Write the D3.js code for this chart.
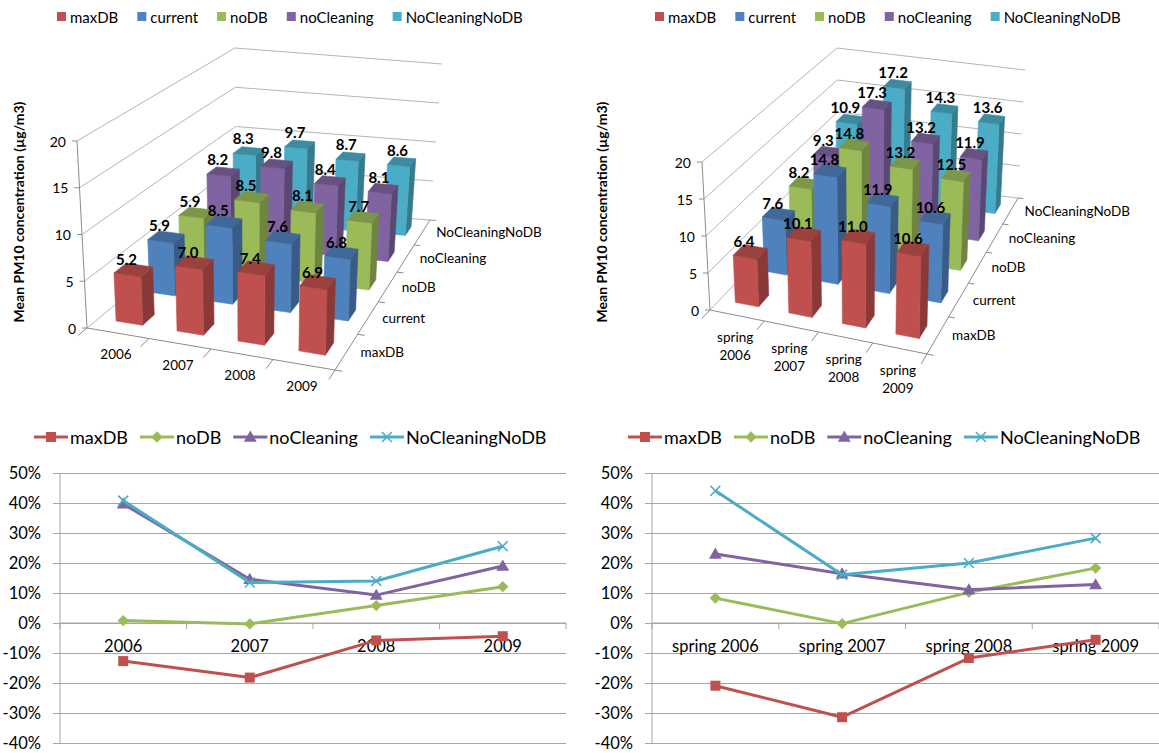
<!DOCTYPE html>
<html>
<head>
<meta charset="utf-8">
<script src="https://cdn.jsdelivr.net/npm/d3@7"></script>
<style>
  body { margin: 0; background: #fff; }
  text { font-family: Lato, "Open Sans", "DejaVu Sans", sans-serif; fill: #000; }
</style>
</head>
<body>
<svg id="chart" width="1159" height="753"></svg>
<script>
// ---- data ----
const seriesNames = ["maxDB", "current", "noDB", "noCleaning", "NoCleaningNoDB"];
const seriesColors = ["#C0504D", "#4F81BD", "#9BBB59", "#8064A2", "#4BACC6"];
const years = ["2006", "2007", "2008", "2009"];
const springs = ["spring 2006", "spring 2007", "spring 2008", "spring 2009"];
const concTicks = [0, 5, 10, 15, 20];
const pctTicks = [-0.4, -0.3, -0.2, -0.1, 0, 0.1, 0.2, 0.3, 0.4, 0.5];

const annualMaxDB = [5.2, 7.0, 7.4, 6.9];
const annualCurrent = [5.9, 8.5, 7.6, 6.8];
const annualNoDB = [5.9, 8.5, 8.1, 7.7];
const annualNoCleaning = [8.2, 9.8, 8.4, 8.1];
const annualNoCleaningNoDB = [8.3, 9.7, 8.7, 8.6];

const springMaxDB = [6.4, 10.1, 11.0, 10.6];
const springCurrent = [7.6, 14.8, 11.9, 10.6];
const springNoDB = [8.2, 14.8, 13.2, 12.5];
const springNoCleaning = [9.3, 17.3, 13.2, 11.9];
const springNoCleaningNoDB = [10.9, 17.2, 14.3, 13.6];

// relative difference to "current"
const annualDiffMaxDB = [-0.127, -0.182, -0.058, -0.044];
const annualDiffNoDB = [0.008, -0.003, 0.058, 0.121];
const annualDiffNoCleaning = [0.397, 0.146, 0.093, 0.19];
const annualDiffNoCleaningNoDB = [0.408, 0.135, 0.14, 0.256];

const springDiffMaxDB = [-0.209, -0.314, -0.117, -0.056];
const springDiffNoDB = [0.083, -0.002, 0.102, 0.183];
const springDiffNoCleaning = [0.23, 0.164, 0.111, 0.128];
const springDiffNoCleaningNoDB = [0.441, 0.161, 0.20, 0.283];

const svg = d3.select("#chart");
const gridColor = "#b4b4b4";
const axisColor = "#8c8c8c";

// ---- 3D column charts ----
// floor corners (front-left, front-right, back-right, back-left), wall heights and lean at each corner
function makeProjector(f) {
  const warp = b => (1 + f.depth) * b / (1 + f.depth * b);
  const bil = (c, u, v) => (c[0] * (1 - u) + c[1] * u) * (1 - v) + (c[3] * (1 - u) + c[2] * u) * v;
  const cx = f.corners.map(p => p[0]), cy = f.corners.map(p => p[1]);
  return (u, t, b) => {
    const v = warp(b);
    return [bil(cx, u, v) + bil(f.lean, u, v) * t, bil(cy, u, v) - bil(f.height, u, v) * t];
  };
}

function draw3D(cfg) {
  const g = svg.append("g");
  const P = makeProjector(cfg.frame);
  const xBand = d3.scaleBand().domain(d3.range(cfg.categories.length)).range([0, 1])
    .paddingInner(0.565).paddingOuter(0.2825);
  const zBand = d3.scaleBand().domain(d3.range(seriesNames.length)).range([0, 1])
    .paddingInner(0.65).paddingOuter(0.325);
  const tScale = d3.scaleLinear().domain([0, 20]).range([0, 1]);
  const line = d3.line();

  // walls gridlines
  concTicks.forEach(v => {
    const t = tScale(v);
    g.append("path").attr("d", line([P(0, t, 0), P(0, t, 1), P(1, t, 1)]))
      .attr("fill", "none").attr("stroke", gridColor).attr("stroke-width", 1);
  });
  // value axis
  g.append("path").attr("d", line([P(0, 0, 0), P(0, 1, 0)])).attr("stroke", axisColor).attr("fill", "none");
  concTicks.forEach(v => {
    const p = P(0, tScale(v), 0);
    g.append("line").attr("x1", p[0] - 5).attr("x2", p[0]).attr("y1", p[1]).attr("y2", p[1]).attr("stroke", axisColor);
    g.append("text").attr("x", p[0] - 11).attr("y", p[1]).attr("text-anchor", "end")
      .attr("dominant-baseline", "central").style("font-size", "14px").text(v);
  });
  // category axis (front floor edge) and series axis (right floor edge)
  g.append("path").attr("d", line([P(0, 0, 0), P(1, 0, 0), P(1, 0, 1)])).attr("stroke", axisColor).attr("fill", "none");
  d3.range(cfg.categories.length + 1).forEach(i => {
    const u = i / cfg.categories.length;
    g.append("path").attr("d", line([P(u, 0, 0), P(u, 0, -0.05)])).attr("stroke", axisColor);
  });
  d3.range(seriesNames.length + 1).forEach(j => {
    const b = j / seriesNames.length;
    g.append("path").attr("d", line([P(1, 0, b), P(1.03, 0, b)])).attr("stroke", axisColor);
  });
  cfg.categories.forEach((c, i) => {
    const p = P(xBand(i) + xBand.bandwidth() / 2, 0, 0);
    const tx = g.append("text").attr("text-anchor", "middle").style("font-size", "13.5px");
    c.split(" ").forEach((w, k) => {
      tx.append("tspan").attr("x", p[0] - 2).attr("y", p[1] + 21 + k * 18)
        .attr("dominant-baseline", "central").text(w);
    });
  });
  seriesNames.forEach((s, j) => {
    const p = P(1, 0, zBand(j) + zBand.bandwidth() / 2);
    g.append("text").attr("x", p[0] + 14).attr("y", p[1]).attr("dominant-baseline", "central")
      .style("font-size", "13.5px").text(s);
  });

  // bars, back rows first, left to right
  const labels = [];
  for (let j = seriesNames.length - 1; j >= 0; j--) {
    const col = d3.color(seriesColors[j]);
    cfg.values[j].forEach((v, i) => {
      const u0 = xBand(i), u1 = u0 + xBand.bandwidth();
      const b0 = zBand(j), b1 = b0 + zBand.bandwidth();
      const t = tScale(v);
      const faces = [
        { pts: [P(u1, 0, b0), P(u1, 0, b1), P(u1, t, b1), P(u1, t, b0)], fill: col.darker(0.95) },
        { pts: [P(u0, 0, b0), P(u1, 0, b0), P(u1, t, b0), P(u0, t, b0)], fill: col },
        { pts: [P(u0, t, b0), P(u1, t, b0), P(u1, t, b1), P(u0, t, b1)], fill: col.darker(0.6) }
      ];
      faces.forEach(f => {
        g.append("path").attr("d", line(f.pts) + "Z").attr("fill", f.fill)
          .attr("stroke", f.fill).attr("stroke-width", 0.6).attr("stroke-linejoin", "round");
      });
      const lp = P((u0 + u1) / 2, t, b0);
      labels.push({ x: lp[0] - 1, y: lp[1] - 10, text: v.toFixed(1) });
    });
  }
  g.selectAll("text.dl").data(labels).enter().append("text").attr("class", "dl")
    .attr("x", d => d.x).attr("y", d => d.y).attr("text-anchor", "middle")
    .style("font-size", "15px").style("font-weight", "bold").text(d => d.text);

  // axis title
  g.append("text").attr("transform", `translate(${cfg.titleX},212) rotate(-90)`)
    .attr("text-anchor", "middle").attr("dominant-baseline", "central")
    .style("font-size", "14px").style("font-weight", "bold").text("Mean PM10 concentration (µg/m3)");

  // legend
  let lx = cfg.legendX;
  seriesNames.forEach((s, j) => {
    g.append("rect").attr("x", lx).attr("y", 12).attr("width", 9).attr("height", 9).attr("fill", seriesColors[j]);
    const tx = g.append("text").attr("x", lx + 13).attr("y", 16.5).attr("dominant-baseline", "central")
      .style("font-size", "15px").text(s);
    lx += 13 + tx.node().getComputedTextLength() + 19;
  });
}

draw3D({
  categories: years,
  values: [annualMaxDB, annualCurrent, annualNoDB, annualNoCleaning, annualNoCleaningNoDB],
  frame: { corners: [[87, 328], [335, 370], [430, 220], [236, 205]], depth: 0.25,
           height: [187, 193, 156, 157], lean: [-10, 5, 12, -1] },
  titleX: 18, legendX: 57
});
draw3D({
  categories: springs,
  values: [springMaxDB, springCurrent, springNoDB, springNoCleaning, springNoCleaningNoDB],
  frame: { corners: [[710, 310], [927, 354], [1018, 198], [838, 176]], depth: 0.25,
           height: [148, 158, 128, 128], lean: [-8, 4, 7, -1] },
  titleX: 601, legendX: 655
});

// ---- line charts ----
const lineSeries = [
  { name: "maxDB", color: "#C0504D", marker: "square" },
  { name: "noDB", color: "#9BBB59", marker: "diamond" },
  { name: "noCleaning", color: "#8064A2", marker: "triangle" },
  { name: "NoCleaningNoDB", color: "#4BACC6", marker: "x" }
];

function drawMarker(g, type, x, y, color) {
  if (type === "square") {
    g.append("path").attr("d", d3.symbol(d3.symbolSquare, 100)()).attr("fill", color)
      .attr("transform", `translate(${x},${y})`);
  } else if (type === "diamond") {
    g.append("path").attr("d", d3.symbol(d3.symbolSquare, 64)()).attr("fill", color)
      .attr("transform", `translate(${x},${y}) rotate(45)`);
  } else if (type === "triangle") {
    g.append("path").attr("d", d3.symbol(d3.symbolTriangle, 72)()).attr("fill", color)
      .attr("transform", `translate(${x},${y + 1})`);
  } else {
    g.append("path").attr("d", "M-5,-5L5,5M-5,5L5,-5").attr("stroke", color).attr("stroke-width", 1.6)
      .attr("fill", "none").attr("transform", `translate(${x},${y})`);
  }
}

function drawLines(cfg) {
  const g = svg.append("g");
  const x = d3.scaleBand().domain(cfg.categories).range([cfg.x0, cfg.x1]);
  const y = d3.scaleLinear().domain([-0.4, 0.5]).range([743, 473]);

  const yAxis = d3.axisLeft(y).tickValues(pctTicks).tickSizeInner(-(cfg.x1 - cfg.x0 + 7)).tickSizeOuter(0)
    .tickPadding(12).tickFormat(d => Math.round(d * 100) + "%");
  const ya = g.append("g").attr("transform", `translate(${cfg.x0 - 7},0)`).call(yAxis);
  ya.select(".domain").remove();
  ya.selectAll(".tick line").attr("stroke", "#a6a6a6");
  ya.selectAll(".tick text").style("font-size", "16.5px").style("font-family", null).attr("fill", "#000");

  g.append("line").attr("x1", cfg.x0).attr("x2", cfg.x0).attr("y1", y(0.5)).attr("y2", y(-0.4))
    .attr("stroke", "#a6a6a6");
  g.append("line").attr("x1", cfg.x0).attr("x2", cfg.x1).attr("y1", y(0)).attr("y2", y(0))
    .attr("stroke", "#a6a6a6");
  d3.range(cfg.categories.length + 1).forEach(i => {
    const xx = cfg.x0 + i * x.step();
    g.append("line").attr("x1", xx).attr("x2", xx).attr("y1", y(0)).attr("y2", y(0) + 6).attr("stroke", "#a6a6a6");
  });
  const xa = g.append("g").attr("transform", `translate(0,${y(0)})`)
    .call(d3.axisBottom(x).tickSize(0).tickPadding(17));
  xa.select(".domain").remove();
  xa.selectAll(".tick text").style("font-size", "16.5px").style("font-family", null).attr("fill", "#000");

  const line = d3.line().x((d, i) => x(cfg.categories[i]) + x.bandwidth() / 2).y(d => y(d));
  lineSeries.forEach((s, k) => {
    const vals = cfg.values[k];
    g.append("path").attr("d", line(vals)).attr("fill", "none").attr("stroke", s.color)
      .attr("stroke-width", 3).attr("stroke-linejoin", "round");
    vals.forEach((v, i) => drawMarker(g, s.marker, x(cfg.categories[i]) + x.bandwidth() / 2, y(v), s.color));
  });

  // legend
  let lx = cfg.legendX;
  const ly = 437;
  lineSeries.forEach(s => {
    g.append("line").attr("x1", lx).attr("x2", lx + 34).attr("y1", ly).attr("y2", ly)
      .attr("stroke", s.color).attr("stroke-width", 3);
    drawMarker(g, s.marker, lx + 17, ly, s.color);
    const tx = g.append("text").attr("x", lx + 36).attr("y", ly).attr("dominant-baseline", "central")
      .style("font-size", "18px").text(s.name);
    lx += 36 + tx.node().getComputedTextLength() + 12;
  });
}

drawLines({
  categories: years, x0: 60, x1: 566, legendX: 34,
  values: [annualDiffMaxDB, annualDiffNoDB, annualDiffNoCleaning, annualDiffNoCleaningNoDB]
});
drawLines({
  categories: springs, x0: 652, x1: 1159, legendX: 628,
  values: [springDiffMaxDB, springDiffNoDB, springDiffNoCleaning, springDiffNoCleaningNoDB]
});
</script>
</body>
</html>
